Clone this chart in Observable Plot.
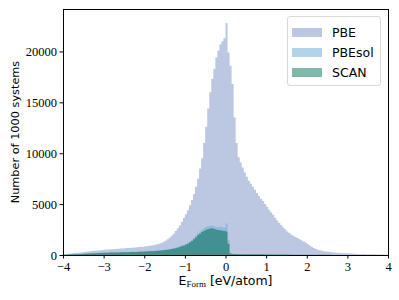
<!DOCTYPE html>
<html><head><meta charset="utf-8">
<script src="https://cdn.jsdelivr.net/npm/d3@7"></script>
<script src="https://cdn.jsdelivr.net/npm/@observablehq/plot@0.6"></script>
<style>
body{margin:0;background:#fff;}
#wrap{position:relative;width:399px;height:300px;}
.legend{position:absolute;left:287px;top:16px;width:94px;height:70px;border:1px solid #d9d9d9;border-radius:3px;background:rgba(255,255,255,0.8);box-sizing:border-box;font-family:"DejaVu Sans",sans-serif;font-size:12.5px;color:#000;}
.row{position:absolute;left:4px;height:14px;display:flex;align-items:center;}
.sw{width:30px;height:9px;margin-right:10px;}
</style></head><body><div id="wrap"></div>
<script>
const binWidth = 0.05;
const xStart = -4;
const seriesNames = ["PBE", "PBEsol", "SCAN"];
const pbe = [
 90,110,130,150,170,190,210,230,250,270,
 300,320,340,370,390,410,430,450,470,490,
 510,530,540,560,570,590,600,610,630,640,
 660,680,690,710,720,740,760,780,800,820,
 850,870,900,930,960,1000,1050,1100,1180,1280,
 1400,1550,1700,1880,2100,2350,2600,2900,3250,3650,
 4000,4400,4900,5400,6000,6700,7500,8500,9500,11000,
 12600,14400,16000,17300,18300,19400,20100,20700,21000,21300,
 22800,19900,18600,16800,13500,11000,9600,9100,8600,8100,
 7700,7300,7000,6700,6400,6100,5800,5500,5300,5000,
 4750,4450,4200,3950,3650,3400,3150,2950,2700,2500,
 2300,2150,2000,1880,1770,1660,1550,1440,1330,1220,
 1080,940,810,700,600,520,460,410,370,340,
 310,290,270,250,230,215,200,190,180,170,
 160,150,140,130,120,110,100,95,90,85,
 80,75,70,65,60,55,50,45,40,35
];
const pbesol = [
 25,35,45,55,66,77,88,99,110,121,
 132,143,154,165,176,187,198,209,220,231,
 242,248,253,259,264,270,275,281,286,292,
 297,303,308,314,319,325,330,341,352,363,
 374,385,396,407,418,435,451,468,484,506,
 528,561,594,638,682,737,792,858,935,1012,
 1100,1210,1350,1510,1700,1920,2140,2330,2500,2640,
 2760,2840,2880,2900,2830,2760,2720,2780,2730,2700,
 3100,1500,180,115,100,97,95,92,90,88,
 86,84,81,79,77,75,73,70,68,66,
 64,62,59,57,55,53,51,48,46,44,
 42,40,37,35,33,32,31,30,29,28,
 26,25,24,23,22,21,20,19,18,17,
 15,14,13,12,11,11,10,10,9,9,
 8,8,7,7,6,6,5,4,4,4,
 3,3,3,3,2,2,2,2,1,1
];
const scan = [
 20,30,40,50,60,70,80,90,100,110,
 120,130,140,150,160,170,180,190,200,210,
 220,225,230,235,240,245,250,255,260,265,
 270,275,280,285,290,295,300,310,320,330,
 340,350,360,370,380,395,410,425,440,460,
 480,510,540,580,620,670,720,780,850,920,
 1000,1100,1230,1380,1550,1750,1950,2100,2250,2380,
 2480,2550,2600,2640,2560,2480,2450,2420,2380,2350,
 2300,1100,150,100,90,88,86,84,82,80,
 78,76,74,72,70,68,66,64,62,60,
 58,56,54,52,50,48,46,44,42,40,
 38,36,34,32,30,29,28,27,26,25,
 24,23,22,21,20,19,18,17,16,15,
 14,13,12,11,10,10,9,9,8,8,
 7,7,6,6,5,5,5,4,4,4,
 3,3,3,3,2,2,2,2,1,1
];
const fillColors = ["#7991c5", "#67a9d1", "#016f55"];
const fillOpacities = [0.5, 0.5, 0.55];
const legendColors = ["#bcc8e2", "#b3d4e8", "#80b8a9"];
const xTicks = [-4, -3, -2, -1, 0, 1, 2, 3, 4];
const yTicks = [0, 5000, 10000, 15000, 20000];
const yLabel = "Number of 1000 systems";
const serif = "'Liberation Serif', 'DejaVu Serif', serif";
const sans = "'DejaVu Sans', sans-serif";

// step outline: each bin start, plus the closing right edge of the last bin
function table(values, name) {
  const rows = values.map((v, i) => ({series: name, x: xStart + i * binWidth, y: v}));
  rows.push({series: name, x: xStart + values.length * binWidth, y: values[values.length - 1]});
  return rows;
}
const datasets = [pbe, pbesol, scan].map((v, i) => table(v, seriesNames[i]));

const chart = Plot.plot({
  width: 399, height: 300,
  marginLeft: 63, marginRight: 11, marginTop: 9, marginBottom: 45,
  style: {background: "white", color: "black"},
  x: {domain: [-4, 4], ticks: xTicks, tickFormat: d3.format("d"), tickSize: 3.5, tickPadding: 3, label: null},
  y: {domain: [0, 24170], ticks: yTicks, tickFormat: d3.format("d"), tickSize: 3.5, tickPadding: 3, label: null},
  marks: [
    ...datasets.map((d, i) => Plot.areaY(d, {x: "x", y: "y", curve: "step-after", fill: fillColors[i], fillOpacity: fillOpacities[i]})),
    Plot.frame({stroke: "black", strokeWidth: 1})
  ]
});
document.getElementById("wrap").appendChild(chart);

const svg = d3.select(chart);
svg.selectAll("text").attr("font-family", serif).style("font-family", serif).attr("font-size", "12.5px").style("font-size", "12.5px").attr("fill", "black");
svg.append("text")
  .attr("transform", "translate(19,132) rotate(-90)")
  .attr("text-anchor", "middle")
  .style("font-family", sans)
  .style("font-size", "11.3px")
  .attr("fill", "black")
  .text(yLabel);
const xl = svg.append("text")
  .attr("x", 225.5).attr("y", 285)
  .attr("text-anchor", "middle")
  .style("font-family", sans)
  .style("font-size", "12.5px")
  .attr("fill", "black");
xl.append("tspan").text("E");
xl.append("tspan").style("font-family", serif).style("font-size", "9px").attr("dy", 2).text("Form");
xl.append("tspan").attr("dy", -2).text(" [eV/atom]");

const leg = d3.select("#wrap").append("div").attr("class", "legend");
seriesNames.forEach((name, i) => {
  const row = leg.append("div").attr("class", "row").style("top", (8.7 + i * 20) + "px");
  row.append("div").attr("class", "sw").style("background", legendColors[i]);
  row.append("span").text(name);
});
</script></body></html>
